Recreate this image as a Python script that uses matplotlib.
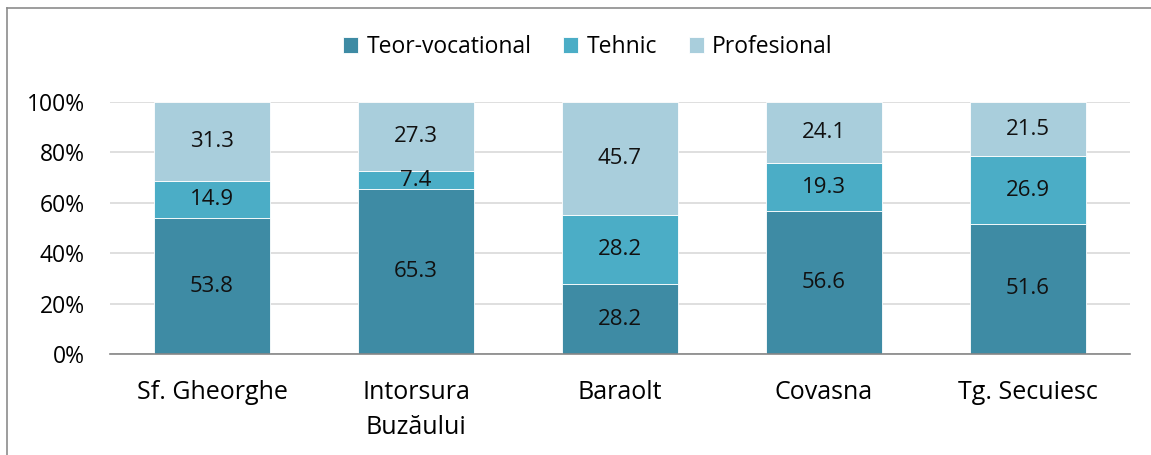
import matplotlib.pyplot as plt
import numpy as np

plt.rcParams['font.family'] = ['Open Sans', 'DejaVu Sans']

categories = ['Sf. Gheorghe', 'Intorsura\nBuzăului', 'Baraolt', 'Covasna', 'Tg. Secuiesc']
teor = [53.8, 65.3, 28.2, 56.6, 51.6]
tehnic = [14.9, 7.4, 28.2, 19.3, 26.9]
profesional = [31.3, 27.3, 45.7, 24.1, 21.5]
series_names = ['Teor-vocational', 'Tehnic', 'Profesional']
colors = ['#3E8BA4', '#4BADC6', '#A9CEDC']

data = np.array([teor, tehnic, profesional])
pct = data / data.sum(axis=0) * 100

fig = plt.figure(figsize=(11.51, 4.55), dpi=100)
ax = fig.add_axes([110 / 1151, 1 - 354 / 455, 1020 / 1151, 252 / 455])

x = np.arange(len(categories))
bottom = np.zeros(len(categories))
for i in range(3):
    ax.bar(x, pct[i], 0.565, bottom=bottom, color=colors[i], label=series_names[i],
           edgecolor='white', linewidth=0.6, zorder=2)
    for xi, b, h, v in zip(x, bottom, pct[i], data[i]):
        ax.text(xi, b + h / 2, f'{v:.1f}', ha='center', va='center', fontsize=16, color='#111111', zorder=3)
    bottom += pct[i]

ax.set_xlim(-0.5, len(categories) - 0.5)
ax.set_ylim(0, 100)
ax.set_yticks(range(0, 101, 20))
ax.set_yticklabels([f'{t}%' for t in range(0, 101, 20)], fontsize=16.5)
ax.set_xticks(x)
ax.set_xticklabels(categories, fontsize=18, linespacing=1.5)
ax.tick_params(axis='y', length=0, pad=18)
ax.tick_params(axis='x', length=0, pad=19)
ax.yaxis.grid(True, color='#D9D9D9', linewidth=1.2, zorder=0)
ax.set_axisbelow(True)
for s in ['top', 'right', 'left']:
    ax.spines[s].set_visible(False)
ax.spines['bottom'].set_color('#868686')
ax.spines['bottom'].set_linewidth(1.2)

fig.legend(loc='center', bbox_to_anchor=(588 / 1151, 1 - 47 / 455), ncol=3, frameon=False,
           fontsize=16.5, handlelength=0.65, handleheight=0.65, handletextpad=0.35, columnspacing=1.4)

# outer frame (left and top edges visible)
fig.add_artist(plt.Line2D([7 / 1151, 7 / 1151], [0, 1 - 8 / 455], transform=fig.transFigure, color='#8C8C8C', linewidth=1.2))
fig.add_artist(plt.Line2D([7 / 1151, 1], [1 - 8 / 455, 1 - 8 / 455], transform=fig.transFigure, color='#8C8C8C', linewidth=1.2))

fig.savefig('out.png', dpi=100)
